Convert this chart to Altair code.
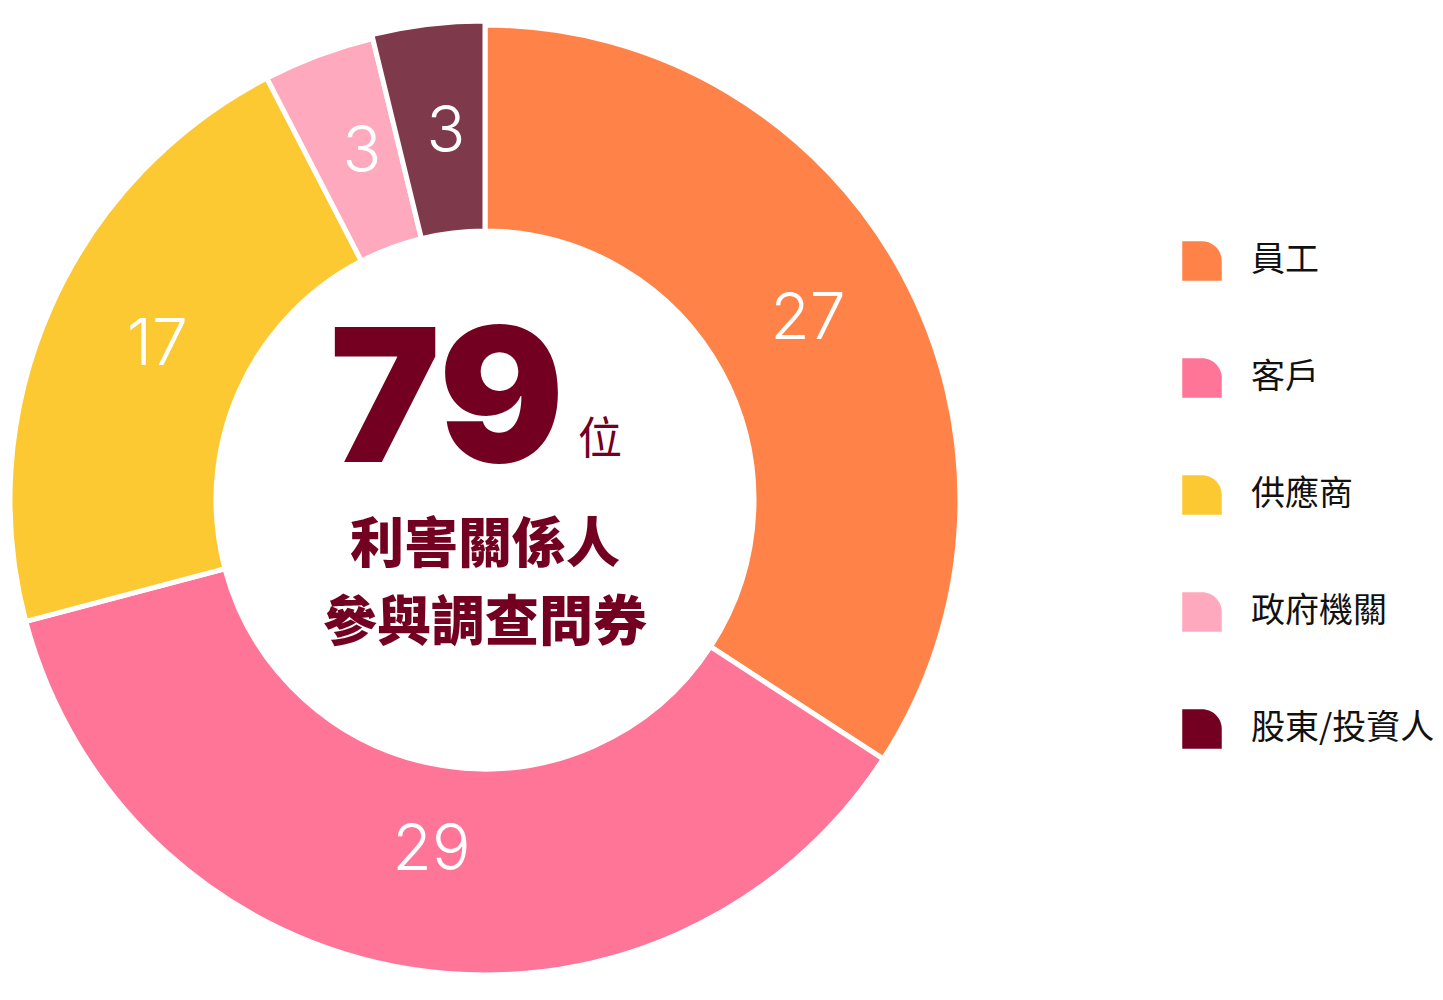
import altair as alt
import pandas as pd

# 利害關係人問卷 - 各類別人數
groups = ['員工', '客戶', '供應商', '政府機關', '股東/投資人']
counts = [27, 29, 17, 3, 3]
colors = ['#ff8349', '#ff7597', '#fdc933', '#fea9be', '#730020']
highlight = '股東/投資人'
highlight_fill = '#7e3a4b'

total_text = '79'
unit_text = '位'
caption_lines = ['利害關係人', '參與調查問券']

df = pd.DataFrame({'group': groups, 'count': counts, 'idx': range(len(groups))})

cx, cy = 477, 492
is_hl = f"datum.group == '{highlight}'"

# stack the counts by hand (clockwise from 12 o'clock) so slices can be split into layers
base = alt.Chart(df).transform_window(
    cum='sum(count)', sort=[alt.SortField('idx')], frame=[None, 0]
).transform_joinaggregate(
    total='sum(count)'
).transform_calculate(
    a0='(datum.cum - datum.count) / datum.total * 2 * PI',
    a1='datum.cum / datum.total * 2 * PI',
).transform_calculate(
    am='(datum.a0 + datum.a1) / 2'
)

arc_enc = dict(
    x=alt.value(cx), y=alt.value(cy),
    theta=alt.Theta('a0:Q', scale=None),
    theta2=alt.Theta2('a1:Q'),
)

arcs = base.transform_filter(f"!({is_hl})").mark_arc(
    innerRadius=269, outerRadius=475, stroke='white', strokeWidth=5
).encode(
    color=alt.Color('group:N', sort=groups,
                    scale=alt.Scale(domain=groups, range=colors),
                    legend=alt.Legend(
                        orient='none', legendX=1174, legendY=233, title=None,
                        symbolType='M-1,-1H0A1,1,0,0,1,1,0V1H-1Z',
                        symbolSize=1560, symbolStrokeWidth=0, symbolOpacity=1,
                        labelFont='Noto Sans CJK TC', labelFontSize=34,
                        labelColor='#111111', labelOffset=29, rowPadding=77,
                        labelLimit=400)),
    **arc_enc,
)

# the highlighted slice sits a touch further out, like a hovered piece
arc_hl = base.transform_filter(is_hl).mark_arc(
    innerRadius=269, outerRadius=479, stroke='white', strokeWidth=5,
    fill=highlight_fill
).encode(**arc_enc)

labels = base.mark_text(radius=363, dx=4, dy=-7, font='Inter', fontSize=64, fontWeight=300,
                        color='white', baseline='middle', align='center').encode(
    x=alt.value(cx), y=alt.value(cy),
    theta=alt.Theta('am:Q', scale=None),
    text='count:Q',
)

big = alt.Chart(pd.DataFrame({'t': [total_text]})).mark_text(
    font='Inter', fontSize=186, fontWeight=900, color='#730020',
    align='center', baseline='alphabetic'
).encode(x=alt.value(439), y=alt.value(454), text='t:N')

unit = alt.Chart(pd.DataFrame({'t': [unit_text]})).mark_text(
    font='Noto Sans CJK TC', fontSize=44, fontWeight=400, color='#730020',
    align='center', baseline='alphabetic'
).encode(x=alt.value(592), y=alt.value(446), text='t:N')

cap_df = pd.DataFrame({'t': caption_lines, 'row': [0, 1]})
caption = alt.Chart(cap_df).mark_text(
    font='Noto Sans CJK TC', fontSize=54, fontWeight=900, color='#730020',
    align='center', baseline='middle'
).encode(
    x=alt.value(477),
    y=alt.Y('row:Q', axis=None, scale=alt.Scale(domain=[0, 1], range=[539, 617])),
    text='t:N',
)

chart = alt.layer(arcs, arc_hl, labels, big, unit, caption).properties(
    width=1427, height=984, autosize=alt.AutoSizeParams(type='none'), padding=0
).configure_view(strokeWidth=0)

chart.save('out.html', embed_options={'renderer': 'svg', 'actions': False})
